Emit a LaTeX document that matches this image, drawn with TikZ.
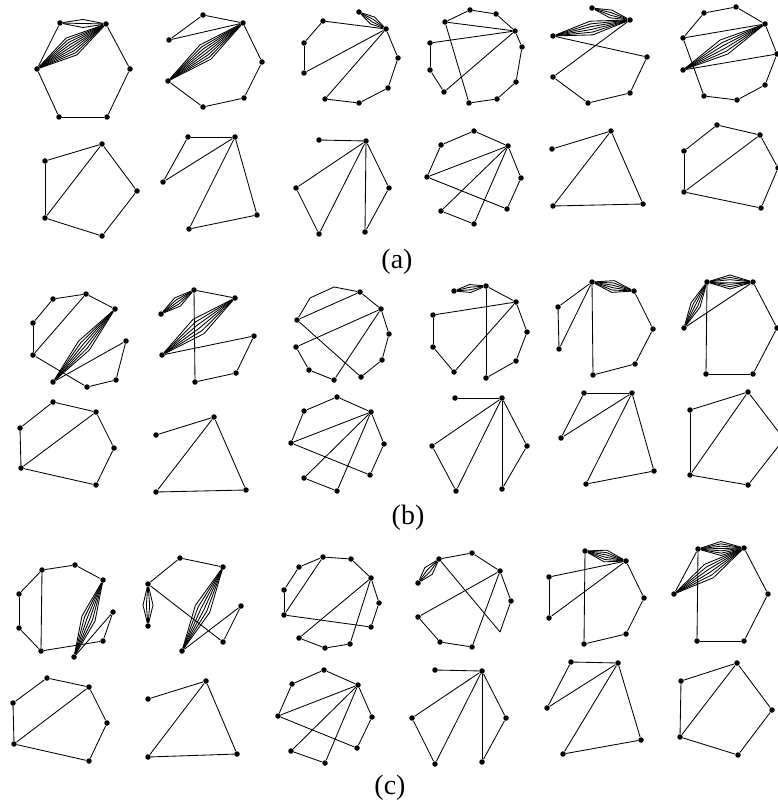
\documentclass[tikz,border=0pt]{standalone}
\usepackage{fontspec}
\setmainfont{Liberation Serif}
\usetikzlibrary{calc}

% several parallel edges between two vertices, drawn as a lens
\newcommand{\bundle}[4]{%
  \foreach \k in {1,...,#3}{%
    \pgfmathsetmacro{\bOff}{-#4+2*#4*(\k-1)/(#3-1)}%
    \draw (#1) -- ($(#1)!0.5!(#2)!\bOff pt!90:(#2)$) -- (#2);
  }}

\begin{document}
\begin{tikzpicture}[x=1pt, y=-1pt, line width=0.85pt,
  vtx/.style={circle, fill=black, inner sep=0pt, minimum size=5.5pt},
  tag/.style={font=\fontsize{28}{32}\selectfont}
]
\useasboundingbox (0,0) rectangle (777,802);

%% ---------------- (a) ----------------
% a11
\foreach \n/\p in {1/{60,23},2/{106,24},3/{130,69},4/{107,117},5/{59,117},6/{37,69}}
  \node[vtx] (a11v\n) at (\p) {};
\foreach \s/\t in {1/6,6/5,5/4,4/3,3/2} \draw (a11v\s) -- (a11v\t);
\bundle{a11v1}{a11v2}{3}{4}
\bundle{a11v6}{a11v2}{9}{10}
% a12
\foreach \n/\p in {1/{203,15},2/{243,23},3/{262,62},4/{244,98},5/{203,107},6/{168,81},7/{169,40}}
  \node[vtx] (a12v\n) at (\p) {};
\foreach \s/\t in {7/1,1/2,7/2,2/3,3/4,4/5,5/6} \draw (a12v\s) -- (a12v\t);
\bundle{a12v6}{a12v2}{8}{9}
% a13
\foreach \n/\p in {1/{359,12},2/{323,21},3/{386,29},4/{304,43},5/{304,73},6/{325,99},7/{359,103},8/{388,88},9/{398,58}}
  \node[vtx] (a13v\n) at (\p) {};
\foreach \s/\t in {2/3,2/4,4/5,5/3,6/7,7/8,6/3,8/9,9/3} \draw (a13v\s) -- (a13v\t);
\bundle{a13v1}{a13v3}{4}{4}
% a14
\foreach \n/\p in {1/{470,10},2/{496,14},3/{515,31},4/{522,47},5/{516,82},6/{497,99},7/{469,103},8/{445,22},9/{430,43},10/{430,70},11/{444,92}}
  \node[vtx] (a14v\n) at (\p) {};
\foreach \s/\t in {8/1,1/2,2/3,3/4,4/5,5/6,6/7,7/8,8/3,9/3,9/10,10/11,11/3} \draw (a14v\s) -- (a14v\t);
% a15
\foreach \n/\p in {1/{592,8},2/{630,20},3/{553,36},4/{647,57},5/{630,93},6/{588,103},7/{553,77}}
  \node[vtx] (a15v\n) at (\p) {};
\foreach \s/\t in {3/4,4/5,5/6,6/7,7/2} \draw (a15v\s) -- (a15v\t);
\bundle{a15v1}{a15v2}{4}{4}
\bundle{a15v3}{a15v2}{6}{7}
% a16
\foreach \n/\p in {1/{704,13},2/{736,7},3/{765,24},4/{777,54},5/{765,85},6/{737,100},7/{704,96},8/{683,70},9/{683,38}}
  \node[vtx] (a16v\n) at (\p) {};
\foreach \s/\t in {9/1,1/2,2/3,3/4,4/5,5/6,6/7,7/9,9/3,8/4} \draw (a16v\s) -- (a16v\t);
\bundle{a16v8}{a16v3}{6}{8}

% a21
\foreach \n/\p in {1/{45,161},2/{102,144},3/{137,191},4/{102,236},5/{45,218}}
  \node[vtx] (a21v\n) at (\p) {};
\foreach \s/\t in {1/2,2/3,3/4,4/5,5/1,5/2} \draw (a21v\s) -- (a21v\t);
% a22
\foreach \n/\p in {1/{188,137},2/{235,137},3/{163,182},4/{257,215},5/{189,229}}
  \node[vtx] (a22v\n) at (\p) {};
\foreach \s/\t in {1/2,1/3,3/2,2/5,2/4,4/5} \draw (a22v\s) -- (a22v\t);
% a23
\foreach \n/\p in {1/{319,140},2/{366,141},3/{296,188},4/{319,234},5/{365,232},6/{389,188}}
  \node[vtx] (a23v\n) at (\p) {};
\foreach \s/\t in {1/2,2/3,3/4,4/2,2/5,5/6,6/2} \draw (a23v\s) -- (a23v\t);
% a24
\foreach \n/\p in {1/{441,145},2/{474,131},3/{508,146},4/{521,178},5/{507,209},6/{427,177},7/{441,211},8/{474,224}}
  \node[vtx] (a24v\n) at (\p) {};
\foreach \s/\t in {1/2,2/3,3/4,4/5,5/6,6/1,6/3,7/3,7/8,8/3} \draw (a24v\s) -- (a24v\t);
% a25
\foreach \n/\p in {1/{552,149},2/{611,131},3/{553,206},4/{643,204}}
  \node[vtx] (a25v\n) at (\p) {};
\foreach \s/\t in {1/2,2/3,3/4,4/2} \draw (a25v\s) -- (a25v\t);
% a26
\foreach \n/\p in {1/{684,151},2/{717,125},3/{760,135},4/{778,168},5/{761,208},6/{684,192}}
  \node[vtx] (a26v\n) at (\p) {};
\foreach \s/\t in {1/2,2/3,3/4,4/5,5/6,6/1,6/3} \draw (a26v\s) -- (a26v\t);

\node[tag] (lbla) at (397,262) {(a)};

%% ---------------- (b) ----------------
% b11
\foreach \n/\p in {1/{53,299},2/{86,294},3/{115,309},4/{33,323},5/{33,355},6/{53,382},7/{87,387},8/{116,380},9/{126,341}}
  \node[vtx] (b11v\n) at (\p) {};
\foreach \s/\t in {4/1,1/2,2/3,4/5,5/2,5/7,7/8,8/9,9/6} \draw (b11v\s) -- (b11v\t);
\bundle{b11v6}{b11v3}{6}{7}
% b12
\foreach \n/\p in {1/{194,290},2/{235,298},3/{161,314},4/{254,336},5/{236,373},6/{195,382},7/{162,355}}
  \node[vtx] (b12v\n) at (\p) {};
\foreach \s/\t in {1/2,1/6,7/4,4/5,5/6} \draw (b12v\s) -- (b12v\t);
\bundle{b12v3}{b12v1}{5}{5}
\bundle{b12v7}{b12v2}{6}{9}
% b13
\foreach \n/\p in {2/{360,292},3/{381,309},4/{389,334},5/{382,360},6/{361,377},7/{334,380},8/{309,370},9/{296,347},10/{297,320}}
  \node[vtx] (b13v\n) at (\p) {};
\foreach \s/\t in {10/2,2/3,3/4,4/5,5/6,6/10,9/3,9/8,8/7,7/3} \draw (b13v\s) -- (b13v\t);
\draw (b13v10) -- (310,298) -- (334,287) -- (b13v2);
% b14
\foreach \n/\p in {1/{454,291},2/{486,286},3/{516,302},4/{527,332},5/{516,361},6/{486,378},7/{454,372},8/{433,347},9/{433,315}}
  \node[vtx] (b14v\n) at (\p) {};
\foreach \s/\t in {2/3,2/6,3/4,4/5,5/6,3/9,9/8,8/7,7/3} \draw (b14v\s) -- (b14v\t);
\bundle{b14v1}{b14v2}{4}{4}
% b15
\foreach \n/\p in {1/{592,282},2/{634,291},3/{558,307},4/{653,329},5/{635,364},6/{593,375},7/{559,349}}
  \node[vtx] (b15v\n) at (\p) {};
\foreach \s/\t in {1/3,1/7,3/7,1/6,2/4,4/5,5/6} \draw (b15v\s) -- (b15v\t);
\bundle{b15v1}{b15v2}{6}{6}
% b16
\foreach \n/\p in {1/{707,282},2/{753,282},3/{777,328},4/{753,374},5/{706,374},6/{684,328}}
  \node[vtx] (b16v\n) at (\p) {};
\foreach \s/\t in {1/5,6/2,2/3,3/4,4/5} \draw (b16v\s) -- (b16v\t);
\bundle{b16v1}{b16v2}{7}{7}
\bundle{b16v6}{b16v1}{5}{5}

% b21
\foreach \n/\p in {1/{53,402},2/{96,412},3/{114,448},4/{96,485},5/{21,468},6/{20,428}}
  \node[vtx] (b21v\n) at (\p) {};
\foreach \s/\t in {6/1,1/2,2/3,3/4,4/5,5/6,5/2} \draw (b21v\s) -- (b21v\t);
% b22
\foreach \n/\p in {1/{156,435},2/{214,417},3/{156,492},4/{246,490}}
  \node[vtx] (b22v\n) at (\p) {};
\foreach \s/\t in {1/2,2/3,3/4,4/2} \draw (b22v\s) -- (b22v\t);
% b23
\foreach \n/\p in {1/{304,411},2/{337,397},3/{371,412},4/{384,444},5/{370,475},6/{291,443},7/{304,478},8/{337,491}}
  \node[vtx] (b23v\n) at (\p) {};
\foreach \s/\t in {1/2,2/3,3/4,4/5,5/6,6/1,6/3,7/3,7/8,8/3} \draw (b23v\s) -- (b23v\t);
% b24
\foreach \n/\p in {1/{455,398},2/{502,398},3/{432,446},4/{456,491},5/{502,489},6/{527,446}}
  \node[vtx] (b24v\n) at (\p) {};
\foreach \s/\t in {1/2,2/3,3/4,4/2,2/5,5/6,6/2} \draw (b24v\s) -- (b24v\t);
% b25
\foreach \n/\p in {1/{584,393},2/{632,393},3/{561,438},4/{654,471},5/{586,484}}
  \node[vtx] (b25v\n) at (\p) {};
\foreach \s/\t in {1/2,1/3,3/2,2/5,2/4,4/5} \draw (b25v\s) -- (b25v\t);
% b26
\foreach \n/\p in {1/{690,410},2/{748,392},3/{784,439},4/{748,485},5/{690,475}}
  \node[vtx] (b26v\n) at (\p) {};
\foreach \s/\t in {1/2,2/3,3/4,4/5,5/1,5/2} \draw (b26v\s) -- (b26v\t);

\node[tag] (lblb) at (408,518) {(b)};

%% ---------------- (c) ----------------
% c11
\foreach \n/\p in {1/{42,570},2/{75,565},3/{103,580},4/{19,594},5/{19,628},6/{41,651},7/{103,641},8/{113,612},9/{74,657}}
  \node[vtx] (c11v\n) at (\p) {};
\foreach \s/\t in {4/1,1/2,2/3,1/6,4/5,5/6,6/7,7/8,8/9} \draw (c11v\s) -- (c11v\t);
\bundle{c11v9}{c11v3}{6}{7}
% c12
\foreach \n/\p in {1/{180,558},2/{223,567},3/{148,584},4/{148,626},5/{182,651},6/{241,606},7/{223,642}}
  \node[vtx] (c12v\n) at (\p) {};
\foreach \s/\t in {1/2,1/3,3/7,5/6,6/7} \draw (c12v\s) -- (c12v\t);
\bundle{c12v3}{c12v4}{4}{5}
\bundle{c12v5}{c12v2}{6}{8}
% c13
\foreach \n/\p in {1/{323,557},2/{351,559},3/{371,578},4/{379,603},5/{371,627},6/{350,644},7/{325,648},8/{299,638},9/{284,615},10/{284,590},11/{299,567}}
  \node[vtx] (c13v\n) at (\p) {};
\foreach \s/\t in {11/1,1/2,2/3,3/4,4/5,5/9,9/10,10/11,9/1,8/3,8/7,7/6,6/3} \draw (c13v\s) -- (c13v\t);
% c14
\foreach \n/\p in {1/{439,559},2/{472,553},3/{500,571},4/{511,601},6/{418,583},7/{418,617},8/{440,642},9/{472,647}}
  \node[vtx] (c14v\n) at (\p) {};
\coordinate (c14v5) at (500,632);
\foreach \s/\t in {1/2,2/3,3/4,4/5,5/1,7/3,7/8,8/9,9/3} \draw (c14v\s) -- (c14v\t);
\bundle{c14v6}{c14v1}{4}{5}
% c15
\foreach \n/\p in {1/{585,551},2/{626,561},3/{549,577},4/{549,618},5/{644,598},6/{626,634},7/{584,644}}
  \node[vtx] (c15v\n) at (\p) {};
\foreach \s/\t in {1/7,3/2,3/4,4/2,2/5,5/6,6/7} \draw (c15v\s) -- (c15v\t);
\bundle{c15v1}{c15v2}{6}{6}
% c16
\foreach \n/\p in {1/{698,549},2/{744,548},3/{768,594},4/{744,641},5/{697,641},6/{674,594}}
  \node[vtx] (c16v\n) at (\p) {};
\foreach \s/\t in {1/5,1/6,2/3,3/4,4/5} \draw (c16v\s) -- (c16v\t);
\bundle{c16v1}{c16v2}{7}{7}
\bundle{c16v6}{c16v2}{6}{8}

% c21
\foreach \n/\p in {1/{47,678},2/{89,687},3/{107,723},4/{89,761},5/{14,744},6/{13,703}}
  \node[vtx] (c21v\n) at (\p) {};
\foreach \s/\t in {6/1,1/2,2/3,3/4,4/5,5/6,5/2} \draw (c21v\s) -- (c21v\t);
% c22
\foreach \n/\p in {1/{148,699},2/{206,681},3/{148,757},4/{237,754}}
  \node[vtx] (c22v\n) at (\p) {};
\foreach \s/\t in {1/2,2/3,3/4,4/2} \draw (c22v\s) -- (c22v\t);
% c23
\foreach \n/\p in {1/{292,684},2/{324,670},3/{358,685},4/{372,717},5/{357,748},6/{278,716},7/{291,751},8/{325,763}}
  \node[vtx] (c23v\n) at (\p) {};
\foreach \s/\t in {1/2,2/3,3/4,4/5,5/6,6/1,6/3,7/3,7/8,8/3} \draw (c23v\s) -- (c23v\t);
% c24
\foreach \n/\p in {1/{435,670},2/{482,671},3/{412,718},4/{435,764},5/{482,762},6/{506,718}}
  \node[vtx] (c24v\n) at (\p) {};
\foreach \s/\t in {1/2,2/3,3/4,4/2,2/5,5/6,6/2} \draw (c24v\s) -- (c24v\t);
% c25
\foreach \n/\p in {1/{571,662},2/{618,663},3/{547,708},4/{641,740},5/{563,754}}
  \node[vtx] (c25v\n) at (\p) {};
\foreach \s/\t in {1/2,1/3,3/2,2/5,2/4,4/5} \draw (c25v\s) -- (c25v\t);
% c26
\foreach \n/\p in {1/{681,681},2/{737,663},3/{772,710},4/{738,755},5/{680,737}}
  \node[vtx] (c26v\n) at (\p) {};
\foreach \s/\t in {1/2,2/3,3/4,4/5,5/1,5/2} \draw (c26v\s) -- (c26v\t);

\node[tag] (lblc) at (390,788) {(c)};
\end{tikzpicture}
\end{document}
